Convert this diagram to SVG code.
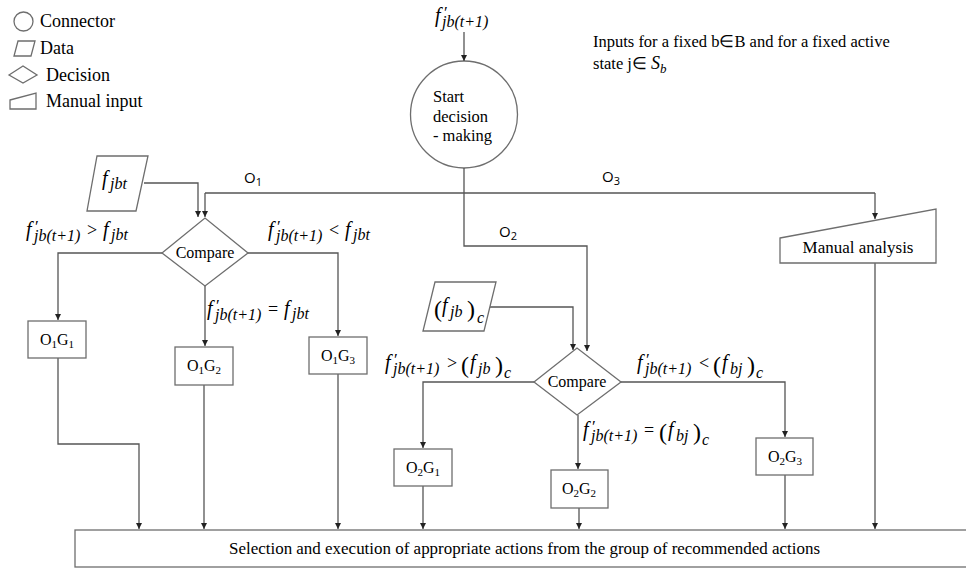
<svg xmlns="http://www.w3.org/2000/svg" width="966" height="569" viewBox="0 0 966 569">
<defs>
<marker id="ah" markerWidth="8" markerHeight="8" refX="6" refY="3" orient="auto" markerUnits="userSpaceOnUse">
<path d="M0,0 L6,3 L0,6 Z" fill="#222"/>
</marker>
</defs>
<rect width="966" height="569" fill="#fff"/>

<g id="legend">
<circle fill="#fff" stroke="#6e6e6e" stroke-width="1.3" cx="23.5" cy="21.5" r="9.5"/>
<text font-family="Liberation Serif" x="40" y="27" font-size="18">Connector</text>
<polygon fill="#fff" stroke="#6e6e6e" stroke-width="1.3" points="18,41 35,41 31,56 14,56"/>
<text font-family="Liberation Serif" x="40" y="54" font-size="18">Data</text>
<polygon fill="#fff" stroke="#6e6e6e" stroke-width="1.3" points="9,75 23,66 37,75 23,83"/>
<text font-family="Liberation Serif" x="46" y="81" font-size="18">Decision</text>
<polygon fill="#fff" stroke="#6e6e6e" stroke-width="1.3" points="10,100 36,93 36,109 10,109"/>
<text font-family="Liberation Serif" x="46" y="107" font-size="18">Manual input</text>
</g>

<g id="inputs-note">
<text font-family="Liberation Serif" x="593" y="47" font-size="16.5">Inputs for a fixed b∈B and for a fixed active</text>
<text font-family="Liberation Serif" x="593" y="69" font-size="16.5">state j∈ <tspan font-style="italic" font-size="18">S</tspan><tspan font-style="italic" font-size="13" dy="4">b</tspan></text>
</g>

<g id="input-top">
<text font-family="Liberation Serif" font-style="italic" font-size="20"><tspan x="435" y="22">f</tspan><tspan font-style="normal" x="444" y="18" font-size="17">′</tspan><tspan x="442" y="27" font-size="16">jb(t+1)</tspan></text>
</g>

<g id="start">
<circle fill="#fff" stroke="#6e6e6e" stroke-width="1.3" cx="464" cy="114.5" r="53.5"/>
<text font-family="Liberation Serif" x="433" y="102" font-size="16.5">Start</text>
<text font-family="Liberation Serif" x="433" y="122" font-size="16.5">decision</text>
<text font-family="Liberation Serif" x="433" y="141" font-size="16.5">- making</text>
</g>

<g id="connectors" fill="none" stroke="#555" stroke-width="1.3">
<path marker-end="url(#ah)" d="M464,32 V61"/>
<path d="M464,168 V193 M205,193 H875"/>
<path marker-end="url(#ah)" d="M205,193 V217"/>
<path marker-end="url(#ah)" d="M875,193 V219"/>
<path marker-end="url(#ah)" d="M464,193 V246 H587 V351"/>
<path marker-end="url(#ah)" d="M144,183 H198 V217"/>
<path marker-end="url(#ah)" d="M162,253 H58 V320"/>
<path marker-end="url(#ah)" d="M205,286 V346"/>
<path marker-end="url(#ah)" d="M248,253 H338 V336"/>
<path marker-end="url(#ah)" d="M58,358 V444 H139 V529"/>
<path marker-end="url(#ah)" d="M204,385 V529"/>
<path marker-end="url(#ah)" d="M338,374 V529"/>
<path marker-end="url(#ah)" d="M489,307 H573 V350"/>
<path marker-end="url(#ah)" d="M534,382 H423 V448"/>
<path marker-end="url(#ah)" d="M578,415 V469"/>
<path marker-end="url(#ah)" d="M621,382 H785 V437"/>
<path marker-end="url(#ah)" d="M423,486 V529"/>
<path marker-end="url(#ah)" d="M579,508 V529"/>
<path marker-end="url(#ah)" d="M785,475 V529"/>
<path marker-end="url(#ah)" d="M875,263 V529"/>
</g>

<g id="branch-labels">
<text font-family="Open Sans" x="244" y="183" font-size="15">O<tspan font-size="11" dy="3">1</tspan></text>
<text font-family="Open Sans" x="602" y="182" font-size="15">O<tspan font-size="11" dy="3">3</tspan></text>
<text font-family="Open Sans" x="499" y="237" font-size="15">O<tspan font-size="11" dy="3">2</tspan></text>
</g>

<g id="data1">
<polygon fill="#fff" stroke="#6e6e6e" stroke-width="1.3" points="97,156 148,156 136,211 87,211"/>
<text font-family="Liberation Serif" font-style="italic" font-size="20"><tspan x="102" y="185">f</tspan><tspan x="110" y="189" font-size="16">jbt</tspan></text>
</g>

<g id="compare1">
<polygon fill="#fff" stroke="#6e6e6e" stroke-width="1.3" points="162,253 205,218 248,253 205,286"/>
<text font-family="Liberation Serif" x="205" y="258" font-size="16" text-anchor="middle">Compare</text>
</g>

<g id="lblA">
<text font-family="Liberation Serif" font-style="italic" font-size="20"><tspan x="26" y="236">f</tspan><tspan font-style="normal" x="35" y="232" font-size="17">′</tspan><tspan x="34" y="241" font-size="16">jb(t+1)</tspan><tspan font-style="normal" x="87" y="236" font-size="18">&gt;</tspan><tspan x="103" y="236">f</tspan><tspan x="111" y="240" font-size="16">jbt</tspan></text>
</g>
<g id="lblB">
<text font-family="Liberation Serif" font-style="italic" font-size="20"><tspan x="268" y="236">f</tspan><tspan font-style="normal" x="277" y="232" font-size="17">′</tspan><tspan x="276" y="241" font-size="16">jb(t+1)</tspan><tspan font-style="normal" x="329" y="236" font-size="18">&lt;</tspan><tspan x="345" y="236">f</tspan><tspan x="353" y="240" font-size="16">jbt</tspan></text>
</g>
<g id="lblC">
<text font-family="Liberation Serif" font-style="italic" font-size="20"><tspan x="207" y="315">f</tspan><tspan font-style="normal" x="216" y="311" font-size="17">′</tspan><tspan x="215" y="320" font-size="16">jb(t+1)</tspan><tspan font-style="normal" x="268" y="315" font-size="18">=</tspan><tspan x="284" y="315">f</tspan><tspan x="292" y="319" font-size="16">jbt</tspan></text>
</g>

<g id="o1g1"><rect fill="#fff" stroke="#6e6e6e" stroke-width="1.3" x="28" y="321" width="58" height="37"/>
<text font-family="Liberation Serif" x="57" y="345" font-size="16" text-anchor="middle">O<tspan font-size="11" dy="3">1</tspan><tspan dy="-3">G</tspan><tspan font-size="11" dy="3">1</tspan></text></g>
<g id="o1g2"><rect fill="#fff" stroke="#6e6e6e" stroke-width="1.3" x="175" y="347" width="58" height="38"/>
<text font-family="Liberation Serif" x="204" y="371" font-size="16" text-anchor="middle">O<tspan font-size="11" dy="3">1</tspan><tspan dy="-3">G</tspan><tspan font-size="11" dy="3">2</tspan></text></g>
<g id="o1g3"><rect fill="#fff" stroke="#6e6e6e" stroke-width="1.3" x="309" y="337" width="58" height="37"/>
<text font-family="Liberation Serif" x="338" y="361" font-size="16" text-anchor="middle">O<tspan font-size="11" dy="3">1</tspan><tspan dy="-3">G</tspan><tspan font-size="11" dy="3">3</tspan></text></g>

<g id="data2">
<polygon fill="#fff" stroke="#6e6e6e" stroke-width="1.3" points="435,282 496,282 484,331 423,331"/>
<text font-family="Liberation Serif" font-style="italic" font-size="20"><tspan font-style="normal" x="434" y="317" font-size="24">(</tspan><tspan x="442" y="312">f</tspan><tspan x="450" y="317" font-size="16">jb</tspan><tspan font-style="normal" x="467" y="317" font-size="24">)</tspan><tspan x="477" y="323" font-size="16">c</tspan></text>
</g>

<g id="compare2">
<polygon fill="#fff" stroke="#6e6e6e" stroke-width="1.3" points="534,382 577,348 621,382 577,415"/>
<text font-family="Liberation Serif" x="577" y="387" font-size="16" text-anchor="middle">Compare</text>
</g>

<g id="lblD">
<text font-family="Liberation Serif" font-style="italic" font-size="20"><tspan x="385" y="369">f</tspan><tspan font-style="normal" x="394" y="365" font-size="17">′</tspan><tspan x="393" y="374" font-size="16">jb(t+1)</tspan><tspan font-style="normal" x="447" y="369" font-size="18">&gt;</tspan><tspan font-style="normal" x="461" y="373" font-size="24">(</tspan><tspan x="470" y="369">f</tspan><tspan x="478" y="374" font-size="16">jb</tspan><tspan font-style="normal" x="495" y="373" font-size="24">)</tspan><tspan x="504" y="378" font-size="16">c</tspan></text>
</g>
<g id="lblE">
<text font-family="Liberation Serif" font-style="italic" font-size="20"><tspan x="637" y="369">f</tspan><tspan font-style="normal" x="646" y="365" font-size="17">′</tspan><tspan x="645" y="374" font-size="16">jb(t+1)</tspan><tspan font-style="normal" x="699" y="369" font-size="18">&lt;</tspan><tspan font-style="normal" x="713" y="373" font-size="24">(</tspan><tspan x="722" y="369">f</tspan><tspan x="730" y="374" font-size="16">bj</tspan><tspan font-style="normal" x="747" y="373" font-size="24">)</tspan><tspan x="756" y="378" font-size="16">c</tspan></text>
</g>
<g id="lblF">
<text font-family="Liberation Serif" font-style="italic" font-size="20"><tspan x="583" y="436">f</tspan><tspan font-style="normal" x="592" y="432" font-size="17">′</tspan><tspan x="591" y="441" font-size="16">jb(t+1)</tspan><tspan font-style="normal" x="644" y="436" font-size="18">=</tspan><tspan font-style="normal" x="659" y="440" font-size="24">(</tspan><tspan x="668" y="436">f</tspan><tspan x="676" y="441" font-size="16">bj</tspan><tspan font-style="normal" x="693" y="440" font-size="24">)</tspan><tspan x="702" y="445" font-size="16">c</tspan></text>
</g>

<g id="o2g1"><rect fill="#fff" stroke="#6e6e6e" stroke-width="1.3" x="394" y="449" width="58" height="37"/>
<text font-family="Liberation Serif" x="423" y="473" font-size="16" text-anchor="middle">O<tspan font-size="11" dy="3">2</tspan><tspan dy="-3">G</tspan><tspan font-size="11" dy="3">1</tspan></text></g>
<g id="o2g2"><rect fill="#fff" stroke="#6e6e6e" stroke-width="1.3" x="551" y="470" width="57" height="38"/>
<text font-family="Liberation Serif" x="579" y="494" font-size="16" text-anchor="middle">O<tspan font-size="11" dy="3">2</tspan><tspan dy="-3">G</tspan><tspan font-size="11" dy="3">2</tspan></text></g>
<g id="o2g3"><rect fill="#fff" stroke="#6e6e6e" stroke-width="1.3" x="756" y="438" width="57" height="37"/>
<text font-family="Liberation Serif" x="785" y="462" font-size="16" text-anchor="middle">O<tspan font-size="11" dy="3">2</tspan><tspan dy="-3">G</tspan><tspan font-size="11" dy="3">3</tspan></text></g>

<g id="manual">
<polygon fill="#fff" stroke="#6e6e6e" stroke-width="1.3" points="780,238 936,209 936,263 780,263"/>
<text font-family="Liberation Serif" x="858" y="253" font-size="17" text-anchor="middle">Manual analysis</text>
</g>

<g id="selection">
<rect fill="#fff" stroke="#6e6e6e" stroke-width="1.3" x="75" y="530" width="900" height="37"/>
<text font-family="Liberation Serif" x="229" y="554" font-size="16" textLength="591" lengthAdjust="spacingAndGlyphs">Selection and execution of appropriate actions from the group of recommended actions</text>
</g>
</svg>
